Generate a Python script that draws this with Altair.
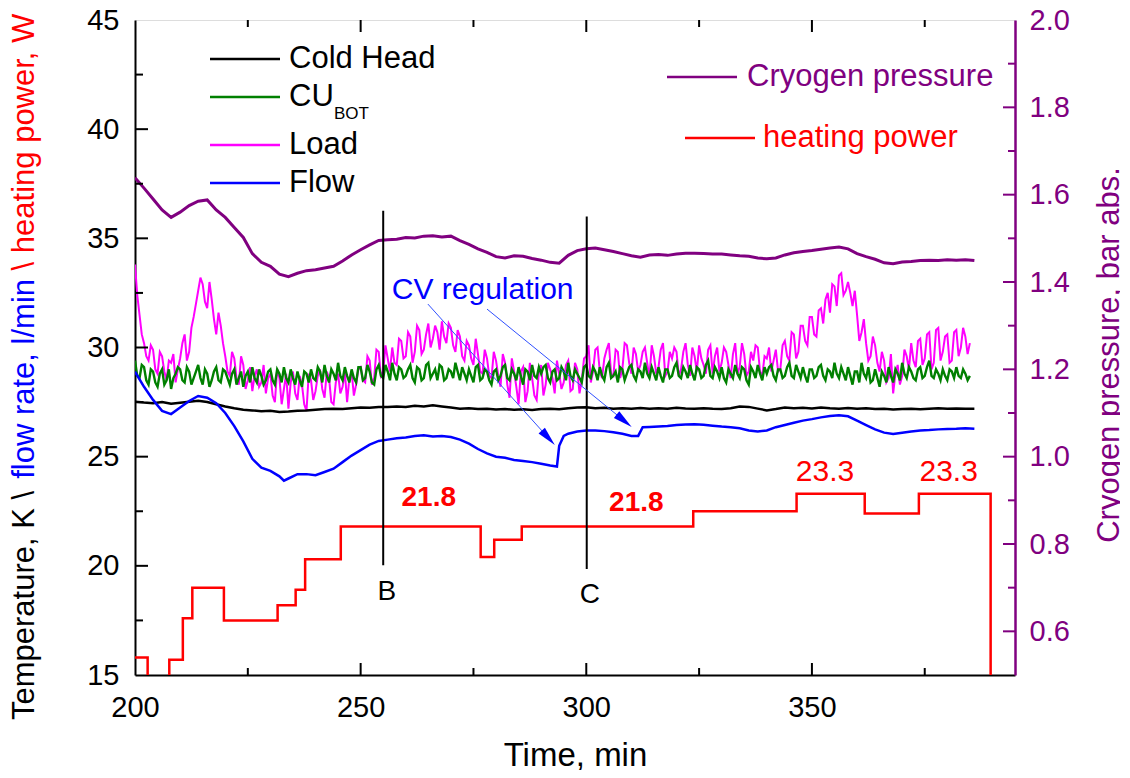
import altair as alt
import pandas as pd

# ------------------------------------------------------------------ data
pressure_t = list(range(200, 387, 2))
pressure_v = [1.639, 1.615, 1.590, 1.565, 1.548, 1.560, 1.575, 1.585, 1.588, 1.565,
              1.548, 1.525, 1.502, 1.465, 1.445, 1.436, 1.418, 1.412, 1.420, 1.426,
              1.428, 1.432, 1.436, 1.448, 1.462, 1.474, 1.485, 1.495, 1.497, 1.498,
              1.502, 1.501, 1.505, 1.506, 1.503, 1.505, 1.495, 1.486, 1.476, 1.468,
              1.458, 1.455, 1.460, 1.459, 1.454, 1.450, 1.445, 1.443, 1.461, 1.472,
              1.476, 1.478, 1.474, 1.470, 1.465, 1.460, 1.457, 1.462, 1.463, 1.461,
              1.464, 1.466, 1.466, 1.465, 1.464, 1.464, 1.462, 1.460, 1.459, 1.455,
              1.453, 1.455, 1.462, 1.467, 1.470, 1.472, 1.475, 1.478, 1.480, 1.476,
              1.465, 1.458, 1.452, 1.444, 1.442, 1.446, 1.447, 1.449, 1.450, 1.449,
              1.451, 1.450, 1.451, 1.449]

coldhead_t = list(range(200, 387, 2))
coldhead_v = [27.52, 27.48, 27.45, 27.50, 27.42, 27.47, 27.52, 27.56, 27.50, 27.40,
              27.30, 27.22, 27.15, 27.12, 27.08, 27.10, 27.05, 27.07, 27.10, 27.12,
              27.15, 27.18, 27.20, 27.18, 27.22, 27.25, 27.24, 27.28, 27.27, 27.30,
              27.28, 27.33, 27.30, 27.35, 27.30, 27.25, 27.20, 27.22, 27.18, 27.20,
              27.16, 27.18, 27.15, 27.17, 27.14, 27.18, 27.20, 27.17, 27.22, 27.25,
              27.26, 27.22, 27.24, 27.20, 27.22, 27.19, 27.23, 27.20, 27.22, 27.20,
              27.24, 27.21, 27.20, 27.22, 27.19, 27.18, 27.22, 27.30, 27.28, 27.20,
              27.12, 27.18, 27.25, 27.22, 27.24, 27.21, 27.25, 27.22, 27.20, 27.23,
              27.20, 27.22, 27.18, 27.20, 27.16, 27.18, 27.20, 27.17, 27.20, 27.22,
              27.20, 27.21, 27.20, 27.20]

flow_t = [200, 202, 204, 206, 208, 210, 212, 214, 216, 218, 220, 222, 224, 226, 228,
          230, 232, 233, 234, 236, 238, 240, 242, 244, 246, 248, 250, 252, 254, 256,
          258, 260, 262, 264, 266, 268, 270, 272, 274, 276, 278, 280, 282, 284, 286,
          288, 290, 292, 293.5, 294, 295, 296, 298, 300, 302, 304, 306, 308, 310,
          311.5, 312.5, 314, 316, 318, 320, 322, 324, 326, 328, 330, 332, 334, 336,
          338, 340, 342, 344, 346, 348, 350, 352, 354, 356, 358, 360, 362, 364, 366,
          368, 370, 372, 374, 376, 378, 380, 382, 384, 386]
flow_v = [28.89, 28.2, 27.6, 27.1, 26.95, 27.25, 27.55, 27.78, 27.7, 27.45, 27.0, 26.4,
          25.7, 24.9, 24.5, 24.35, 24.1, 23.9, 24.0, 24.2, 24.2, 24.15, 24.3, 24.45,
          24.75, 25.05, 25.3, 25.55, 25.72, 25.78, 25.84, 25.88, 25.95, 25.98, 25.92,
          25.95, 25.9, 25.78, 25.6, 25.35, 25.15, 25.0, 24.95, 24.85, 24.8, 24.75,
          24.68, 24.6, 24.55, 25.5, 25.95, 26.05, 26.15, 26.2, 26.2, 26.17, 26.12,
          26.05, 25.95, 25.95, 26.35, 26.36, 26.38, 26.4, 26.45, 26.47, 26.49, 26.46,
          26.42, 26.38, 26.35, 26.3, 26.2, 26.15, 26.2, 26.35, 26.45, 26.55, 26.65,
          26.72, 26.8, 26.86, 26.9, 26.85, 26.65, 26.45, 26.25, 26.1, 26.04, 26.1,
          26.15, 26.2, 26.22, 26.25, 26.27, 26.28, 26.3, 26.28]

# CU_BOT: whole-minute samples and half-minute samples
cubot_t = list(range(200, 386))
cubot_v = [29.4, 28.6, 29.1, 28.3, 28.9, 28.2, 29.0, 28.5, 28.1, 28.8,
           29.0, 28.4, 28.9, 28.6, 29.2, 28.3, 28.8, 28.5, 29.1, 28.4,
           28.9, 28.3, 29.0, 28.6, 28.2, 28.9, 29.1, 28.4, 28.7, 28.5,
           29.0, 28.3, 28.8, 29.1, 28.4, 28.6, 28.9, 28.2, 28.8, 29.0,
           28.5, 28.9, 29.2, 28.4, 28.8, 29.3, 28.5, 28.7, 29.0, 28.4,
           29.1, 28.6, 28.9, 28.3, 29.2, 28.6, 28.9, 29.3, 28.5, 29.0,
           28.7, 29.2, 28.4, 29.0, 28.6, 29.3, 28.8, 28.5, 29.1, 28.6,
           28.9, 29.3, 28.5, 28.8, 29.0, 28.4, 29.2, 28.6, 28.9, 28.3,
           29.0, 28.7, 29.2, 28.5, 28.8, 29.1, 28.3, 28.9, 29.2, 28.6,
           28.8, 29.2, 28.4, 29.0, 28.6, 28.9, 29.3, 28.5, 28.8, 28.4,
           29.2, 28.6, 28.9, 29.1, 28.5, 29.3, 28.7, 28.4, 29.0, 28.8,
           29.2, 28.5, 28.9, 29.3, 28.6, 28.8, 29.1, 28.4, 29.0, 28.7,
           29.3, 28.6, 28.9, 29.2, 28.5, 29.0, 28.7, 29.4, 28.6, 28.9,
           29.1, 28.4, 28.8, 29.2, 28.6, 29.0, 28.3, 28.9, 29.2, 28.5,
           28.8, 29.2, 28.5, 29.0, 28.7, 29.3, 28.6, 28.9, 29.1, 28.4,
           29.0, 28.7, 29.2, 28.5, 28.9, 29.3, 28.6, 28.8, 29.1, 28.3,
           28.9, 29.3, 28.6, 28.4, 29.0, 28.2, 28.7, 29.1, 28.4, 28.8,
           29.3, 28.6, 28.9, 28.5, 29.1, 28.7, 29.4, 28.6, 28.8, 29.0,
           28.5, 28.9, 29.1, 28.6, 28.8, 28.7]
cubot_half_t = [200.5 + i for i in range(185)]
cubot_half_v = [28.7, 29.2, 28.5, 29.0, 28.4, 28.8, 28.3, 29.0, 28.6, 29.1,
                28.5, 29.1, 28.3, 28.9, 28.6, 29.0, 28.2, 28.9, 28.5, 29.0,
                28.6, 28.8, 28.3, 28.9, 28.7, 28.4, 28.6, 29.0, 28.3, 28.9,
                28.5, 29.0, 28.4, 28.6, 29.0, 28.3, 28.5, 28.9, 28.4, 28.6,
                29.1, 28.4, 28.7, 29.0, 28.5, 28.7, 29.1, 28.4, 28.6, 29.1,
                28.5, 29.2, 28.4, 29.0, 28.7, 29.2, 28.5, 28.8, 29.1, 28.6,
                29.0, 28.6, 29.1, 28.5, 29.2, 28.6, 29.0, 29.2, 28.5, 29.0,
                28.6, 28.9, 29.1, 28.5, 28.7, 29.1, 28.5, 29.0, 28.5, 28.9,
                28.5, 29.1, 28.6, 29.0, 28.5, 28.7, 29.0, 28.5, 28.7, 29.1,
                29.1, 28.6, 28.9, 28.5, 29.1, 28.5, 28.7, 29.0, 28.6, 29.1,
                28.7, 29.1, 28.5, 28.7, 29.1, 28.6, 28.9, 29.1, 28.5, 29.1,
                28.7, 29.0, 28.6, 28.8, 29.1, 28.5, 28.7, 29.0, 28.6, 29.1,
                28.7, 29.1, 28.6, 28.8, 29.1, 28.6, 29.2, 28.7, 29.1, 28.6,
                28.6, 29.0, 28.6, 28.8, 29.1, 28.5, 29.1, 28.6, 28.8, 29.1,
                29.1, 28.7, 29.0, 28.6, 29.1, 28.7, 29.2, 28.6, 28.7, 29.0,
                28.6, 29.1, 28.7, 29.0, 28.6, 28.8, 29.1, 28.5, 28.7, 28.9,
                28.4, 28.8, 29.1, 28.5, 28.6, 28.9, 28.4, 28.7, 29.0, 28.5,
                28.8, 29.1, 28.6, 29.0, 28.6, 29.1, 28.7, 29.0, 28.5, 28.7,
                29.0, 28.6, 28.7, 29.0, 28.5]

# Load: whole-minute samples and half-minute samples
load_t = list(range(200, 386))
load_v = [33.8, 31.5, 30.2, 29.4, 29.9, 28.8, 29.6, 28.5, 29.3, 28.4,
          29.5, 30.6, 29.8, 31.4, 32.6, 32.9, 31.8, 32.2, 30.6, 31.0,
          29.6, 28.7, 29.5, 28.3, 29.2, 28.5, 28.0, 29.0, 28.4, 27.9,
          28.8, 27.5, 28.6, 28.1, 27.2, 28.9, 27.6, 28.3, 27.1, 28.5,
          28.0, 29.0, 27.7, 28.6, 27.4, 28.8, 28.2, 27.5, 28.9, 28.3,
          29.1, 28.4, 29.4, 28.6, 29.8, 28.9, 29.5, 30.0, 29.2, 30.3,
          29.6, 30.5, 29.8, 30.8, 29.9, 31.1, 30.4, 30.7, 31.2, 30.2,
          30.9, 29.8, 30.5, 29.4, 30.1, 29.2, 29.7, 28.8, 29.5, 28.6,
          29.4, 28.2, 29.3, 27.7, 28.9, 27.4, 29.1, 28.0, 28.6, 27.6,
          29.2, 28.3, 29.0, 27.9, 28.8, 28.4, 29.4, 28.1, 29.0, 28.5,
          29.6, 28.4, 29.9, 28.9, 29.5, 30.2, 28.7, 29.8, 29.0, 30.1,
          28.8, 29.7, 29.2, 30.0, 28.6, 29.6, 29.1, 30.2, 28.9, 29.5,
          29.8, 29.0, 30.2, 28.7, 29.6, 30.1, 29.2, 29.9, 28.8, 30.0,
          29.3, 29.8, 28.6, 30.2, 29.1, 29.7, 28.9, 29.4, 30.0, 28.7,
          29.5, 28.9, 29.9, 29.0, 30.3, 29.4, 30.6, 29.8, 31.0, 30.1,
          31.4, 30.5, 31.8, 32.2, 31.6, 32.8, 33.3, 32.4, 33.0, 31.9,
          31.5, 30.7, 30.2, 29.6, 30.1, 28.9, 29.4, 28.6, 27.9, 29.2,
          28.7, 29.6, 30.2, 29.1, 30.4, 29.5, 30.7, 29.3, 30.9, 29.8,
          30.6, 29.4, 30.8, 30.0, 30.5, 30.2]
load_half_t = [200.5 + i for i in range(185)]
load_half_v = [32.4, 30.6, 29.6, 30.1, 29.0, 29.8, 28.9, 29.4, 29.7, 29.0,
               30.2, 29.4, 30.9, 32.0, 33.2, 32.1, 33.0, 31.3, 31.6, 30.2,
               28.9, 29.8, 28.6, 29.6, 28.1, 29.1, 28.7, 28.2, 29.2, 28.6,
               27.8, 29.0, 27.4, 28.8, 28.4, 27.9, 28.7, 27.4, 28.8, 27.6,
               28.7, 28.1, 28.9, 27.5, 28.4, 27.9, 28.9, 28.6, 27.8, 29.0,
               28.5, 29.6, 28.3, 29.9, 28.7, 30.1, 28.9, 29.3, 30.4, 29.5,
               30.7, 29.3, 31.0, 29.7, 30.6, 30.0, 31.0, 29.9, 30.5, 31.1,
               30.1, 30.8, 29.6, 30.3, 29.5, 30.4, 28.9, 29.9, 28.7, 29.8,
               28.7, 29.7, 28.3, 29.5, 28.2, 28.9, 27.5, 29.3, 27.8, 28.9,
               27.8, 29.3, 28.6, 29.4, 28.1, 29.2, 28.0, 29.3, 27.9, 29.5,
               30.1, 28.9, 30.0, 28.6, 29.9, 28.8, 29.9, 28.6, 30.2, 29.3,
               30.0, 28.9, 29.8, 29.3, 30.1, 28.8, 29.9, 28.7, 29.8, 30.0,
               28.7, 29.8, 29.2, 30.0, 28.9, 29.5, 28.8, 30.1, 29.6, 28.9,
               30.0, 29.2, 29.7, 28.8, 30.2, 28.7, 29.8, 30.1, 28.9, 29.6,
               30.0, 29.4, 28.9, 30.1, 29.6, 30.7, 29.5, 31.0, 30.3, 31.4,
               30.6, 31.7, 31.1, 32.5, 32.9, 31.9, 33.4, 32.6, 32.5, 32.6,
               30.3, 31.3, 29.4, 30.5, 29.3, 29.8, 28.4, 29.7, 28.8, 28.3,
               29.9, 29.0, 29.4, 30.3, 29.2, 30.6, 29.0, 30.8, 29.4, 30.5,
               29.3, 30.7, 29.6, 30.9, 29.7]

power_t = [200, 202.8, 207.6, 210.6, 212.7, 219.7, 231.6, 235.6, 237.7, 245.6,
           276.6, 279.6, 285.7, 323.7, 346.6, 361.7, 373.7, 389.6, 395]
power_v = [15.8, 0, 15.7, 17.6, 19.0, 17.5, 18.2, 18.9, 20.3, 21.8,
           20.4, 21.2, 21.8, 22.5, 23.3, 22.4, 23.3, 0, 0]

power_label_t = [265.1, 311.1, 352.9, 380.3]
power_label_v = [23.1, 22.87, 24.29, 24.29]
power_label_txt = ["21.8", "21.8", "23.3", "23.3"]
power_label_bold = [True, True, False, False]

marker_t = [255.0, 300.1]
marker_top = [36.26, 36.0]
marker_bottom = [20.03, 19.86]
marker_label_t = [255.8, 300.8]
marker_label_v = [18.81, 18.66]
marker_label_txt = ["B", "C"]

arrow_t = [264.9, 278.0]
arrow_v = [31.99, 31.76]
arrow_t2 = [291.5, 308.3]
arrow_v2 = [25.88, 26.66]
arrow_angle = [137.8, 129.1]

x_major = [250, 300, 350]
x_minor = [225, 275, 325, 375]
yl_major = [20, 25, 30, 35, 40]
yl_minor = [17.5, 22.5, 27.5, 32.5, 37.5, 42.5]
yr_major = [0.6, 0.8, 1.0, 1.2, 1.4, 1.6, 1.8]
yr_minor = [0.7, 0.9, 1.1, 1.3, 1.5, 1.7, 1.9]

# ------------------------------------------------------------------ style
FONT = "Liberation Sans"
W, H = 880, 655
PURPLE = "#800080"
GREEN = "#008000"
MAGENTA = "#FF00FF"
BLUE = "#0000FF"
RED = "#FF0000"

XS = alt.Scale(domain=[200, 395], nice=False, zero=False)
YLS = alt.Scale(domain=[15, 45], nice=False, zero=False)
YRS = alt.Scale(domain=[0.5, 2.0], nice=False, zero=False)

X_AXIS = alt.Axis(values=[200, 250, 300, 350], format="d", title="Time, min",
                  ticks=False, tickSize=0, labelPadding=18, titlePadding=17,
                  grid=False, labelFlush=False, labelOverlap=False,
                  domainColor="black", domainWidth=2,
                  labelFontSize=29, titleFontSize=33, labelColor="black",
                  titleColor="black", titleFontWeight="normal",
                  labelFont=FONT, titleFont=FONT)
YL_AXIS = alt.Axis(values=[15, 20, 25, 30, 35, 40, 45], format="d", title=None,
                   ticks=False, tickSize=0, labelPadding=16, grid=False,
                   labelFlush=False, labelOverlap=False,
                   domainColor="black", domainWidth=2, labelFontSize=29,
                   labelColor="black", labelFont=FONT)
YR_AXIS = alt.Axis(orient="right", values=[0.6, 0.8, 1.0, 1.2, 1.4, 1.6, 1.8, 2.0],
                   format=".1f", title=None, ticks=False, tickSize=0,
                   labelPadding=14, grid=False, labelFlush=False,
                   labelOverlap=False, domainColor=PURPLE, domainWidth=2.5,
                   labelFontSize=29, labelColor=PURPLE, labelFont=FONT)


def xe(f="t"):
    return alt.X(f"{f}:Q", scale=XS, axis=X_AXIS)


def yle(f="v"):
    return alt.Y(f"{f}:Q", scale=YLS, axis=YL_AXIS)


def yre(f="p"):
    return alt.Y(f"{f}:Q", scale=YRS, axis=YR_AXIS)


ONE = pd.DataFrame({"a": [0]})


def frame(t, v, t2=None, v2=None):
    df = pd.DataFrame({"t": t, "v": v})
    if t2 is not None:
        df = pd.concat([df, pd.DataFrame({"t": t2, "v": v2})]).sort_values("t")
    return df


def series(df, color, sw, **kw):
    return alt.Chart(df).mark_line(color=color, strokeWidth=sw, clip=True, **kw).encode(
        x=xe(), y=yle(), order="t:Q")


def ptext(text, x, y, color="black", size=31, angle=0, align="left", bold=False):
    return alt.Chart(ONE).mark_text(
        text=text, font=FONT, fontSize=size, color=color, angle=angle, align=align,
        baseline="middle", fontWeight="bold" if bold else "normal").encode(
        x=alt.value(x), y=alt.value(y))


def prule(x1, x2, y, color, sw=2.5):
    return alt.Chart(ONE).mark_rule(color=color, strokeWidth=sw).encode(
        x=alt.value(x1), x2=alt.value(x2), y=alt.value(y))


layers = [
    series(frame(load_t, load_v, load_half_t, load_half_v), MAGENTA, 2),
    series(frame(cubot_t, cubot_v, cubot_half_t, cubot_half_v), GREEN, 2.4),
    series(frame(coldhead_t, coldhead_v), "black", 2.5),
    series(frame(flow_t, flow_v), BLUE, 2.5),
    series(frame(power_t, power_v), RED, 2.5, interpolate="step-after"),
]

# B / C markers
mk = pd.DataFrame({"t": marker_t, "v": marker_top, "v2": marker_bottom})
layers.append(alt.Chart(mk).mark_rule(color="black", strokeWidth=2).encode(
    x=xe(), y=yle(), y2="v2:Q"))
mkl = pd.DataFrame({"t": marker_label_t, "v": marker_label_v, "s": marker_label_txt})
layers.append(alt.Chart(mkl).mark_text(font=FONT, fontSize=28, color="black",
                                       baseline="middle").encode(x=xe(), y=yle(), text="s:N"))

# heating power labels
pl = pd.DataFrame({"t": power_label_t, "v": power_label_v, "s": power_label_txt,
                   "b": power_label_bold})
layers.append(alt.Chart(pl[pl["b"]]).mark_text(font=FONT, fontSize=28, color=RED,
                                               fontWeight="bold", baseline="middle").encode(
    x=xe(), y=yle(), text="s:N"))
layers.append(alt.Chart(pl[~pl["b"]]).mark_text(font=FONT, fontSize=30, color=RED,
                                                baseline="middle").encode(
    x=xe(), y=yle(), text="s:N"))

# CV regulation annotation
layers.append(alt.Chart(pd.DataFrame({"t": [256.9], "v": [32.63]})).mark_text(
    text="CV regulation", font=FONT, fontSize=30, color=BLUE, align="left",
    baseline="middle").encode(x=xe(), y=yle()))
ar = pd.DataFrame({"t": arrow_t, "v": arrow_v, "t2": arrow_t2, "v2": arrow_v2})
layers.append(alt.Chart(ar).mark_rule(color="#3050FF", strokeWidth=1).encode(
    x=xe(), y=yle(), x2="t2:Q", y2="v2:Q"))
for tt, vv, ang in zip(arrow_t2, arrow_v2, arrow_angle):
    layers.append(alt.Chart(pd.DataFrame({"t": [tt], "v": [vv]})).mark_point(
        shape="M0,-1L0.42,0.9L-0.42,0.9Z", filled=True, size=420, color=BLUE,
        opacity=1, angle=ang).encode(x=xe(), y=yle()))

# inward ticks (x bottom/top, left y)
for vals, ln in ((x_major, 12), (x_minor, 7)):
    d = pd.DataFrame({"t": vals})
    layers.append(alt.Chart(d).mark_rule(color="black", strokeWidth=2).encode(
        x=xe(), y=alt.value(H), y2=alt.value(H - ln)))
    layers.append(alt.Chart(d).mark_rule(color="black", strokeWidth=2).encode(
        x=xe(), y=alt.value(0), y2=alt.value(ln)))
for vals, ln in ((yl_major, 13), (yl_minor, 8)):
    d = pd.DataFrame({"v": vals})
    layers.append(alt.Chart(d).mark_rule(color="black", strokeWidth=2).encode(
        y=yle(), x=alt.value(0), x2=alt.value(ln)))

# legends
legend_rows = [("Cold Head", "black", 39), ("CU", GREEN, 77),
               ("Load", MAGENTA, 125), ("Flow", BLUE, 163)]
for name, col, yy in legend_rows:
    layers.append(prule(75, 145, yy, col))
    layers.append(ptext(name, 154, yy))
layers.append(ptext("BOT", 199, 94, size=17))
layers.append(prule(532, 602, 57, PURPLE))
layers.append(ptext("Cryogen pressure", 612, 57, color=PURPLE))
layers.append(prule(550, 620, 118, RED))
layers.append(ptext("heating power", 628, 118, color=RED))

# axis titles (multi-coloured left title, purple right title)
layers.append(ptext("Temperature, K \\", -110, 700, angle=270))
layers.append(ptext("flow rate, l/min", -110, 458.8, color=BLUE, angle=270))
layers.append(ptext("\\ heating power, W", -110, 250.4, color=RED, angle=270))
layers.append(ptext("Cryogen pressure, bar abs.", 975, 335, color=PURPLE, angle=270,
                    align="center"))

left = alt.layer(*layers)

# right axis group
right_layers = [
    alt.Chart(pd.DataFrame({"t": pressure_t, "p": pressure_v})).mark_line(
        color=PURPLE, strokeWidth=3, clip=True).encode(x=xe(), y=yre())
]
for vals, ln in ((yr_major, 12), (yr_minor, 7)):
    d = pd.DataFrame({"p": vals})
    right_layers.append(alt.Chart(d).mark_rule(color=PURPLE, strokeWidth=2).encode(
        y=yre(), x=alt.value(W), x2=alt.value(W - ln)))
right = alt.layer(*right_layers)

chart = alt.layer(right, left).resolve_scale(y="independent").properties(
    width=W, height=H,
    autosize=alt.AutoSizeParams(type="none"),
    padding={"left": 127, "top": 12, "right": 105, "bottom": 95},
).configure_view(stroke="black", strokeWidth=2).configure(background="white")

chart.save("out.html", embed_options={"renderer": "svg", "actions": False})
